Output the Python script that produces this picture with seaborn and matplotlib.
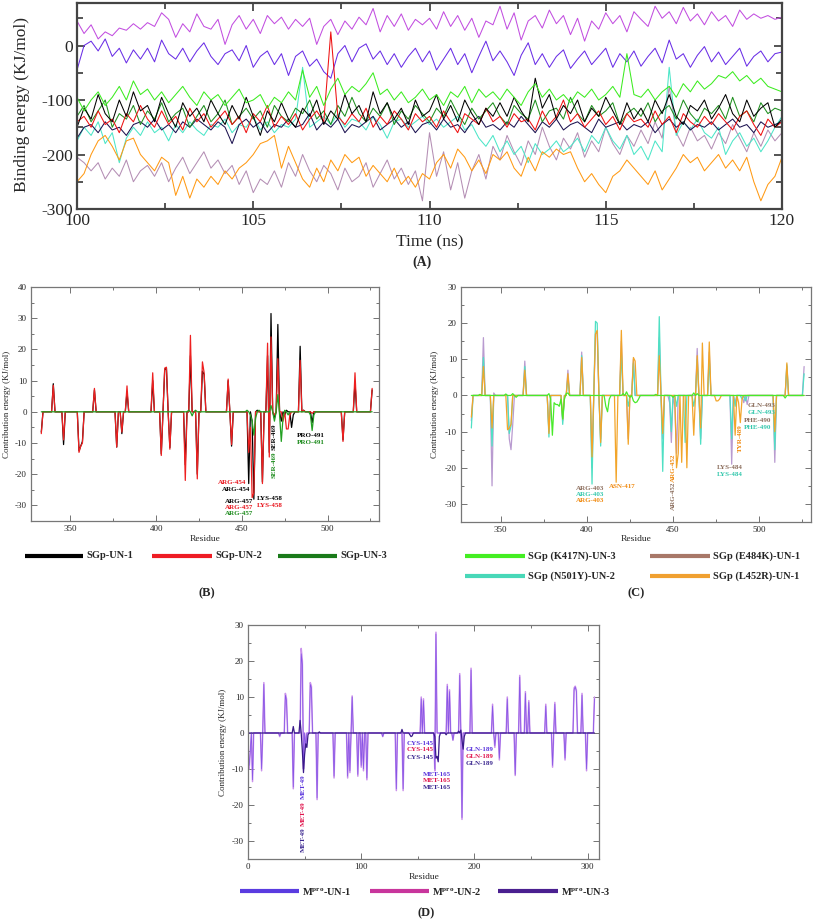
import numpy as np
import pandas as pd
import matplotlib
matplotlib.use("Agg")
import matplotlib.pyplot as plt
from matplotlib.lines import Line2D
from matplotlib.ticker import MultipleLocator
import seaborn as sns

sns.set_style("ticks")
plt.rcParams['font.family'] = ['Liberation Serif', 'DejaVu Serif']
plt.rcParams['axes.unicode_minus'] = False
plt.rcParams['mathtext.fontset'] = 'custom'
plt.rcParams['mathtext.rm'] = 'Liberation Serif:bold'
plt.rcParams['mathtext.bf'] = 'Liberation Serif:bold'
plt.rcParams['mathtext.it'] = 'Liberation Serif:bold'

# ---------------- Panel A: binding energy vs time (100-120 ns) ----------------
be_orchid = [45, 22, 38, 12, 25, 18, 32, 28, 40, 30,
             42, 35, 60, 48, 15, 40, 25, 58, 35, 30,
             48, 2, 38, 55, 30, 48, 22, 55, 40, 52,
             30, 48, 35, 50, 2, 35, 48, 20, 45, 30,
             52, 38, 68, 25, 55, 35, 58, 28, 48, 38,
             50, 30, 62, 35, 55, 28, 50, 15, 45, 38,
             72, 30, 60, 10, 45, 55, 32, 65, 40, 55,
             20, 50, 8, 45, 30, 60, 40, 55, 25, 62,
             48, 35, 72, 50, 62, 40, 70, 45, 58, 38,
             62, 45, 55, 35, 65, 48, 58, 50, 55, 48, 52]
be_violet = [-45, 0, 8, -10, 12, -20, -5, -32, -8, -25,
             -5, -30, 10, -15, -25, -5, -30, -10, 5, -20,
             -35, -15, -8, -28, 0, -40, -20, -10, -35, -15,
             -55, -20, -10, -38, -25, -48, -60, -15, 0, -30,
             -5, 3, -25, -10, -35, -15, -40, -20, -5, -30,
             -10, -45, -25, -5, -35, -15, -50, -20, 8, -28,
             -10, -30, -55, -18, 5, -35, -15, -40, -20, -8,
             -42, -25, -10, -35, -20, -5, -40, -15, -30, -10,
             -38, -20, -5, -32, 10, -25, -15, -40, -18, -2,
             -30, -12, -35, -20, -5, -38, -20, -10, -30, -15, -12]
be_lime = [-95, -120, -100, -85, -110, -95, -75, -100, -65, -90,
           -80, -100, -85, -105, -90, -75, -95, -110, -85, -100,
           -90, -110, -95, -80, -105, -100, -90, -115, -95, -105,
           -85, -100, -45, -95, -75, -110, -80, -60, -90, -75,
           -85, -70, -50, -90, -80, -100, -85, -105, -95, -80,
           -100, -90, -110, -85, -95, -75, -105, -80, -95, -85,
           -100, -80, -95, -110, -85, -70, -95, -80, -100, -90,
           -105, -85, -95, -80, -100, -90, -75, -95, -15, -90,
           -95, -80, -100, -85, -75, -95, -70, -85, -65, -80,
           -70, -55, -60, -48, -65, -55, -70, -60, -75, -80, -85]
be_red = [-140, -130, -150, -120, -145, -135, -160, -125, -140, -110,
          -135, -150, -120, -145, -130, -155, -115, -140, -125, -150,
          -135, -120, -145, -130, -160, -125, -140, -110, -150, -130,
          -145, -125, -155, -135, -120, -140, 25, -130, -145, -125,
          -140, -115, -150, -130, -145, -120, -135, -155, -125, -140,
          -130, -150, -120, -140, -160, -125, -135, -145, -115, -140,
          -130, -150, -125, -140, -135, -155, -120, -145, -130, -100,
          -140, -125, -150, -135, -120, -145, -130, -155, -125, -140,
          -135, -150, -120, -145, -130, -160, -125, -140, -150, -130,
          -145, -125, -140, -155, -130, -120, -145, -165, -135, -150, -140]
be_black = [-150, -115, -135, -90, -125, -140, -100, -130, -85, -120,
            -110, -140, -95, -125, -150, -105, -130, -115, -140, -100,
            -125, -145, -110, -135, -95, -130, -165, -120, -140, -105,
            -135, -150, -115, -130, -100, -145, -120, -135, -90, -125,
            -110, -140, -85, -125, -105, -135, -115, -145, -100, -130,
            -120, -90, -135, -110, -140, -100, -125, -145, -115, -130,
            -105, -130, -95, -120, -140, -60, -115, -90, -135, -110,
            -125, -100, -140, -115, -130, -95, -120, -145, -105, -135,
            -115, -140, -100, -125, -90, -130, -145, -110, -120, -100,
            -135, -115, -90, -125, -140, -100, -130, -115, -105, -150, -135]
be_navy = [-170, -150, -145, -160, -140, -155, -150, -165, -145, -140,
           -150, -135, -155, -145, -160, -140, -150, -135, -145, -155,
           -140, -150, -180, -145, -135, -150, -140, -160, -145, -150,
           -135, -150, -145, -125, -155, -140, -150, -135, -160, -145,
           -150, -140, -130, -155, -145, -135, -150, -140, -160, -145,
           -140, -155, -135, -150, -145, -160, -140, -130, -150, -145,
           -155, -140, -150, -130, -145, -160, -140, -150, -135, -155,
           -145, -140, -150, -160, -135, -150, -145, -140, -155, -145,
           -150, -140, -160, -145, -135, -150, -140, -155, -145, -150,
           -140, -155, -145, -135, -150, -145, -160, -140, -150, -145, -140]
be_dkgreen = [-130, -110, -140, -120, -100, -150, -125, -135, -110, -145,
              -120, -135, -105, -140, -125, -115, -150, -130, -110, -140,
              -125, -100, -145, -130, -115, -135, -120, -150, -110, -130,
              -140, -115, -125, -100, -135, -120, -145, -110, -130, -95,
              -125, -140, -115, -130, -105, -145, -120, -135, -110, -125,
              -140, -115, -130, -100, -125, -145, -115, -135, -120, -105,
              -130, -145, -110, -125, -135, -100, -140, -120, -115, -135,
              -95, -125, -140, -110, -130, -120, -105, -145, -125, -115,
              -130, -105, -140, -120, -110, -135, -100, -125, -140, -115,
              -125, -110, -135, -95, -130, -120, -140, -105, -125, -115, -120]
be_turq = [-175, -150, -165, -140, -180, -160, -215, -170, -150, -165,
           -140, -160, -150, -175, -145, -160, -140, -155, -165, -145,
           -150, -135, -160, -145, -150, -130, -155, -140, -160, -145,
           -150, -135, -40, -150, -140, -130, -145, -125, -150, -135,
           -140, -155, -130, -145, -170, -140, -135, -150, -140, -130,
           -145, -135, -150, -140, -130, -155, -145, -170, -185, -165,
           -195, -175, -200, -185, -215, -180, -200, -190, -175, -195,
           -185, -170, -195, -165, -180, -150, -175, -190, -165, -200,
           -185, -210, -175, -195, -40, -165, -140, -155, -135, -160,
           -170, -150, -200, -175, -160, -185, -170, -195, -175, -150, -130]
be_mauve = [-205, -215, -230, -215, -245, -225, -240, -210, -250, -230,
            -220, -240, -215, -250, -225, -205, -235, -215, -195, -225,
            -210, -235, -220, -255, -230, -270, -245, -255, -230, -260,
            -215, -240, -200, -230, -250, -220, -235, -265, -225, -250,
            -240, -215, -260, -235, -210, -245, -225, -255, -230, -285,
            -160, -240, -195, -265, -215, -280, -230, -200, -245, -185,
            -210, -165, -195, -220, -175, -200, -150, -185, -210, -170,
            -190, -160, -205, -175, -195, -150, -180, -200, -165, -185,
            -155, -180, -140, -170, -75, -160, -185, -150, -175, -165,
            -190, -160, -180, -145, -170, -195, -160, -185, -155, -175, -160]
be_orange = [-250, -235, -200, -175, -165, -185, -210, -175, -170, -200,
             -215, -230, -205, -215, -275, -240, -280, -245, -260, -240,
             -255, -230, -245, -225, -215, -200, -180, -175, -165, -225,
             -185, -215, -245, -260, -225, -250, -210, -230, -200, -215,
             -205, -240, -220, -235, -250, -225, -255, -240, -260, -235,
             -245, -215, -200, -225, -190, -205, -230, -210, -235, -200,
             -210, -195, -225, -240, -205, -230, -195, -205, -190, -200,
             -195, -225, -250, -235, -255, -270, -240, -230, -210, -225,
             -240, -255, -230, -265, -245, -225, -200, -215, -205, -230,
             -215, -200, -225, -210, -230, -205, -250, -285, -255, -240, -205]

# ---------------- Panel B: per-residue contribution (SGp) ----------------
b_res_un1 = [333, 340, 346, 355, 356, 357, 364, 377, 380, 383, 398, 403, 405, 406, 408,
             417, 420, 424, 427, 428, 442, 444, 454, 456, 457, 459, 462, 465, 466, 467,
             469, 471, 473, 475, 476, 479, 480, 484, 486, 491, 509, 516, 526]
b_val_un1 = [-6.5, 9, -10.5, -12.5, -11, -9.5, 7, -11.3, -7, 6.5, 10, -13.5, 13.5, 14, -11.5,
             -17, 18, -20, 13, 12, 10, -11, -23, -3, -28, 0.5, -22.5, 18, -13, 31.5,
             -2, 28, -3, -1, 0.5, -5, -1, 21, 0.5, -3.5, -9, 9.5, 7]
b_res_un2 = [333, 340, 346, 355, 356, 357, 364, 377, 380, 383, 398, 403, 405, 406, 408,
             417, 420, 424, 427, 428, 442, 444, 454, 455, 456, 457, 462, 465, 466, 467,
             469, 471, 474, 476, 477, 478, 484, 486, 491, 509, 516, 526]
b_val_un2 = [-7, 8.5, -9, -13, -11, -10, 7.5, -11.3, -6.5, 8.3, 12.5, -14, 14, 14.3, -12,
             -22, 24.5, -21.5, 16, 12.5, 10.5, -10.5, -13, -5, -27.5, -26, -23, 22, -14.5, 24,
             -1, 17, -3, -5.5, -5.5, -1, 16.5, 0.5, -0.5, -9.5, 12.5, 7.5]
b_res_un3 = [419, 421, 423, 453, 455, 456, 457, 458, 460, 467, 469, 471, 472, 473, 474,
             475, 477, 490, 491, 492]
b_val_un3 = [0.5, -1.3, 0.5, 0.5, -1, -3, -7.5, -2, 0.5, 2, -3, 5.5, -1, -9.5, -2,
             0.5, -1, -1, -6, -1]

# ---------------- Panel C: per-residue contribution (SGp variants) ----------------
c_res_k417n = [338, 353, 357, 359, 378, 379, 380, 381, 382, 383, 384, 385, 386, 387, 388,
               389, 411, 412, 413, 421, 423, 425, 427, 428, 429, 430, 440, 450, 462, 464, 515]
c_val_k417n = [0.3, 0.4, 0.5, -0.5, 0.5, -1, -11, -2, -2.5, -2.5, -3, -1, -6.5, -1, 0.5,
               0.7, -3, -4.5, -1, 0.5, 1, -0.5, -1.5, -2, -1.8, -1, 0.3, -0.5, 0.7, 0.5, -0.7]
c_res_e484k = [333, 340, 345, 346, 355, 356, 357, 364, 378, 386, 389, 397, 403, 405, 406,
               408, 420, 424, 427, 442, 444, 448, 449, 451, 452, 464, 466, 471, 484, 486,
               491, 493, 509, 516, 526]
c_val_e484k = [-7, 16, -25, 0.7, -12, -15, -8, 9.5, -10, -7, 7, 12, -20, 17, 17.5,
               -12, 15, -12, 10, 16, -12, -2, -13, -3, -16, 13, -12, 12, -19, -2,
               -2, -2.5, -18.5, 8, 8]
c_res_n501y = [333, 340, 345, 355, 356, 364, 378, 386, 389, 397, 403, 405, 406, 408, 420,
               424, 427, 442, 444, 449, 452, 457, 462, 464, 466, 471, 484, 486, 490, 492,
               509, 516, 526]
c_val_n501y = [-9, 10.5, -14, -10.5, -8.5, 8, -11.5, -8, 5, 11, -24.5, 20.5, 20, -14, 12,
               -3, 9, 21.8, -21, -10, -3, -13, -3, 10, -13.5, 10, -12, -3, -1, -1.5,
               -15, 8.5, 6]
c_res_l452r = [333, 340, 345, 354, 355, 356, 364, 378, 386, 389, 397, 403, 405, 406, 408,
               417, 420, 424, 427, 428, 442, 444, 452, 453, 455, 458, 462, 464, 466, 467,
               471, 475, 476, 477, 486, 488, 489, 490, 509, 516]
c_val_l452r = [-6, 8, -9, -9.5, -9, -8, 7, -10.5, -6.5, 6, 10.5, -17, 17, 18, -13,
               -24, 18, -13.5, 10.5, 9.5, 11, -10.5, -20, -16, -18.5, -20, -11, 11, -9, 14.5,
               14.8, -1.5, -1.5, -1, -11, -2, -7.5, -1, -10, 9]

# ---------------- Panel D: per-residue contribution (Mpro) ----------------
d_res_un12 = [1, 2, 4, 12, 14, 28, 33, 34, 40, 47, 48, 49, 51, 55, 56, 61, 76, 88, 90, 92,
              97, 100, 102, 105, 119, 131, 137, 153, 155, 165, 166, 176, 178, 181, 187, 189,
              197, 216, 218, 222, 229, 236, 240, 245, 248, 263, 269, 271, 280, 288, 289, 290,
              295, 299, 306]
d_val_un1 = [-9, -5, -13, -10, 13.5, -0.8, 10.5, 9, -15, 22, 19, -8, -3.5, 13.5, 12.5, -18,
             -12, -12, -10.5, 10, -11.5, -9, -10, -12.5, -1, -15.5, -15.5, 9.5, 9, -10, 27.5,
             13, 11.5, -2, 16, -23.5, 17.5, 7.5, -3.5, -7, 9.5, -11.5, 15.5, 11, 8.5, 7.5, -9,
             8, -7, 12, 12.8, 11.5, 10.5, -10, 9.5]
d_val_un2 = [-10, -5.5, -13.5, -10.5, 14, -1, 11, 9.5, -15.5, 23.5, 20, -10, -4, 14, 13, -18.5,
             -12.5, -12.5, -11, 10.3, -12, -9.5, -10.5, -13, -1, -16, -16, 10, 9.5, -10.5, 28,
             13.5, 12, -2, 16.5, -24, 18, 8, -4, -7.5, 10, -11.8, 16, 11.5, 9, 8, -9.5,
             8.5, -7.5, 12.5, 13, 12, 11, -10.5, 10]
d_res_un3 = [40, 46, 48, 49, 50, 51, 52, 53, 63, 136, 143, 144, 145, 165, 166, 167, 168, 169,
             175, 186, 188, 189, 190, 191]
d_val_un3 = [1.8, 3.5, -5, -11, -6, -3, -4, -0.5, 0.3, 1, -0.5, -1, -0.8, -1, -7, -6.5, -8, -1,
             -0.5, 0.5, 0.8, -2, -4.5, -1]

spike_residues = np.arange(333, 527)
mpro_residues = np.arange(1, 307)


def profile(all_res, res, vals):
    assert len(res) == len(vals)
    y = pd.Series(0.0, index=all_res)
    y.loc[res] = vals
    return y


W, H = 813, 922
fig = plt.figure(figsize=(W / 100, H / 100), dpi=100)


def fx(px):
    return px / W


def fy(py):
    return 1 - py / H


def make_axes(l, t, r, b):
    return fig.add_axes([fx(l), fy(b), fx(r) - fx(l), fy(t) - fy(b)])


def style(ax, xmaj, xmin, ymaj, ymin, lsize, majlen, minlen, slw, scol, pad):
    ax.xaxis.set_major_locator(MultipleLocator(xmaj))
    ax.xaxis.set_minor_locator(MultipleLocator(xmin))
    ax.yaxis.set_major_locator(MultipleLocator(ymaj))
    ax.yaxis.set_minor_locator(MultipleLocator(ymin))
    ax.tick_params(which='both', direction='in', top=True, right=True,
                   labelsize=lsize, color=scol, pad=pad)
    ax.tick_params(which='major', length=majlen, width=slw * 0.8)
    ax.tick_params(which='minor', length=minlen, width=slw * 0.8)
    for s in ax.spines.values():
        s.set_linewidth(slw)
        s.set_color(scol)
    ax.set_xlabel('')
    ax.set_ylabel('')
    ax.grid(False)


# ---- Panel A
axA = make_axes(77, 3, 782, 209)
seriesA = [(be_orchid, '#c24ee0'), (be_violet, '#6a2ee6'), (be_mauve, '#b48eb4'),
           (be_turq, '#4ce6c8'), (be_orange, '#ff9a14'), (be_navy, '#1c1250'),
           (be_dkgreen, '#1f8f1f'), (be_red, '#ee1111'), (be_black, '#000000'),
           (be_lime, '#3cec20')]
for vals, col in seriesA:
    t = np.linspace(100, 120, len(vals))
    sns.lineplot(x=t, y=np.array(vals, dtype=float), ax=axA, color=col, lw=0.75,
                 legend=False, errorbar=None)
axA.set_xlim(100, 120)
axA.set_ylim(-300, 78)
style(axA, 5, 2.5, 100, 50, 12.5, 6, 4, 1.6, '#444444', 3)
fig.text(fx(22), fy(105), 'Binding energy (KJ/mol)', rotation=90, ha='center', va='center',
         fontsize=12.5)
fig.text(fx(430), fy(242), 'Time (ns)', ha='center', va='center', fontsize=12.5)
fig.text(fx(422), fy(262), '(A)', ha='center', va='center', fontsize=10, fontweight='bold')

# ---- Panel B
axB = make_axes(31, 287, 379, 521)
for res, vals, col in [(b_res_un1, b_val_un1, '#000000'), (b_res_un2, b_val_un2, '#ee2020'),
                       (b_res_un3, b_val_un3, '#22a022')]:
    y = profile(spike_residues, res, vals)
    sns.lineplot(x=y.index, y=y.values, ax=axB, color=col, lw=0.9, legend=False, errorbar=None)
axB.set_xlim(327, 530)
axB.set_ylim(-35, 40)
style(axB, 50, 25, 10, 5, 6.5, 4, 2.2, 0.9, '#777777', 3)

cB_k, cB_r, cB_g = '#000000', '#e8141c', '#1a8a1a'
lab = dict(fontsize=5, fontweight='bold', ha='center', va='center')
axB.text(469, -8, 'SER-469', color=cB_k, rotation=90, **lab)
axB.text(469, -17, 'SER-469', color=cB_g, rotation=90, **lab)
axB.text(490.4, -7.7, 'PRO-491', color=cB_k, **lab)
axB.text(490.4, -10.0, 'PRO-491', color=cB_g, **lab)
axB.text(444.4, -22.7, 'ARG-454', color=cB_r, **lab)
axB.text(446.8, -25.0, 'ARG-454', color=cB_k, **lab)
axB.text(448.5, -28.8, 'ARG-457', color=cB_k, **lab)
axB.text(448.5, -30.7, 'ARG-457', color=cB_r, **lab)
axB.text(448.5, -32.6, 'ARG-457', color=cB_g, **lab)
axB.text(466.5, -27.8, 'LYS-458', color=cB_k, **lab)
axB.text(466.5, -30.0, 'LYS-458', color=cB_r, **lab)

fig.text(fx(7), fy(404), 'Contribution energy (KJ/mol)', rotation=90, ha='center',
         va='center', fontsize=6.5)
fig.text(fx(205), fy(539), 'Residue', ha='center', va='center', fontsize=6.8)
fig.text(fx(207), fy(593), '(B)', ha='center', va='center', fontsize=9, fontweight='bold')

# ---- Panel C
axC = make_axes(461, 287, 811, 522)
for res, vals, col in [(c_res_e484k, c_val_e484k, '#b99bd0'), (c_res_n501y, c_val_n501y, '#4fe0c4'),
                       (c_res_l452r, c_val_l452r, '#f2a52a'), (c_res_k417n, c_val_k417n, '#48ea2a')]:
    y = profile(spike_residues, res, vals)
    sns.lineplot(x=y.index, y=y.values, ax=axC, color=col, lw=0.9, legend=False, errorbar=None)
axC.set_xlim(327, 530)
axC.set_ylim(-35, 30)
style(axC, 50, 25, 10, 5, 6.5, 4, 2.2, 0.9, '#777777', 3)

cC_b, cC_t, cC_o = '#8b6d5c', '#35c8ad', '#f08a10'
axC.text(402, -25.6, 'ARG-403', color=cC_b, **lab)
axC.text(402, -27.3, 'ARG-403', color=cC_t, **lab)
axC.text(402, -29.0, 'ARG-403', color=cC_o, **lab)
axC.text(420.6, -25.3, 'ASN-417', color=cC_o, **lab)
axC.text(450.3, -27.8, 'ARG-452', color=cC_b, rotation=90, **lab)
axC.text(450.3, -20.0, 'ARG-452', color=cC_o, rotation=90, **lab)
axC.text(489, -11.7, 'TYR-489', color=cC_o, rotation=90, **lab)
axC.text(501.4, -2.8, 'GLN-493', color=cC_b, **lab)
axC.text(501.4, -4.7, 'GLN-493', color=cC_t, **lab)
axC.text(499, -6.9, 'PHE-490', color=cC_b, **lab)
axC.text(499, -8.9, 'PHE-490', color=cC_t, **lab)
axC.text(482.8, -20.0, 'LYS-484', color=cC_b, **lab)
axC.text(482.8, -21.8, 'LYS-484', color=cC_t, **lab)

fig.text(fx(435), fy(404), 'Contribution energy (KJ/mol)', rotation=90, ha='center',
         va='center', fontsize=6.5)
fig.text(fx(636), fy(539), 'Residue', ha='center', va='center', fontsize=6.8)
fig.text(fx(636), fy(593), '(C)', ha='center', va='center', fontsize=9, fontweight='bold')

# ---- Panel D
axD = make_axes(248, 625, 599, 859)
for vals, col, lw in [(d_val_un2, '#cb92ec', 1.1), (d_val_un1, '#8756e6', 0.55)]:
    y = profile(mpro_residues, d_res_un12, vals)
    sns.lineplot(x=y.index, y=y.values, ax=axD, color=col, lw=lw, legend=False, errorbar=None)
y3 = profile(mpro_residues, d_res_un3, d_val_un3)
sns.lineplot(x=y3.index, y=y3.values, ax=axD, color='#3a1a8a', lw=0.9, legend=False,
             errorbar=None)
axD.set_xlim(0, 310)
axD.set_ylim(-35, 30)
style(axD, 100, 50, 10, 5, 6.5, 4, 2.2, 0.9, '#777777', 3)

cD_1, cD_2, cD_3 = '#5a34dc', '#e0144c', '#3c2890'
axD.text(48.5, -15.0, 'MET-49', color=cD_1, rotation=90, **lab)
axD.text(48.5, -22.3, 'MET-49', color=cD_2, rotation=90, **lab)
axD.text(48.5, -29.5, 'MET-49', color=cD_3, rotation=90, **lab)
axD.text(151.8, -2.8, 'CYS-145', color=cD_1, **lab)
axD.text(151.8, -4.7, 'CYS-145', color=cD_2, **lab)
axD.text(151.8, -6.7, 'CYS-145', color=cD_3, **lab)
axD.text(166.8, -11.4, 'MET-165', color=cD_1, **lab)
axD.text(166.8, -13.3, 'MET-165', color=cD_2, **lab)
axD.text(166.8, -15.1, 'MET-165', color=cD_3, **lab)
axD.text(204.8, -4.7, 'GLN-189', color=cD_1, **lab)
axD.text(204.8, -6.6, 'GLN-189', color=cD_2, **lab)
axD.text(204.8, -8.4, 'GLN-189', color=cD_3, **lab)

fig.text(fx(223), fy(742), 'Contribution energy (KJ/mol)', rotation=90, ha='center',
         va='center', fontsize=6.5)
fig.text(fx(424), fy(877), 'Residue', ha='center', va='center', fontsize=6.8)
fig.text(fx(426), fy(913), '(D)', ha='center', va='center', fontsize=9, fontweight='bold')


# ---- legends (swatches + bold labels)
def legend_entry(x0, x1, ypx, color, label, fs=7.5):
    fig.add_artist(Line2D([fx(x0), fx(x1)], [fy(ypx), fy(ypx)], transform=fig.transFigure,
                          color=color, lw=3, solid_capstyle='butt'))
    fig.text(fx(x1 + 3), fy(ypx), label, fontsize=fs, fontweight='bold', ha='left',
             va='center')


legend_entry(25, 83, 556, '#000000', 'SGp-UN-1')
legend_entry(152, 212, 556, '#ee1c24', 'SGp-UN-2')
legend_entry(278, 337, 556, '#1a7a1a', 'SGp-UN-3')

legend_entry(465, 525, 556, '#44ee22', 'SGp (K417N)-UN-3')
legend_entry(650, 710, 556, '#a87868', 'SGp (E484K)-UN-1')
legend_entry(465, 525, 576, '#48d8b8', 'SGp (N501Y)-UN-2')
legend_entry(650, 710, 576, '#f0a030', 'SGp (L452R)-UN-1')

legend_entry(240, 299, 891, '#5a3ce0', r'M$^{\mathbf{pro}}$-UN-1')
legend_entry(370, 429, 891, '#c8359c', r'M$^{\mathbf{pro}}$-UN-2')
legend_entry(498, 558, 891, '#4a2090', r'M$^{\mathbf{pro}}$-UN-3')

fig.savefig('out.png', dpi=100, facecolor='white')
